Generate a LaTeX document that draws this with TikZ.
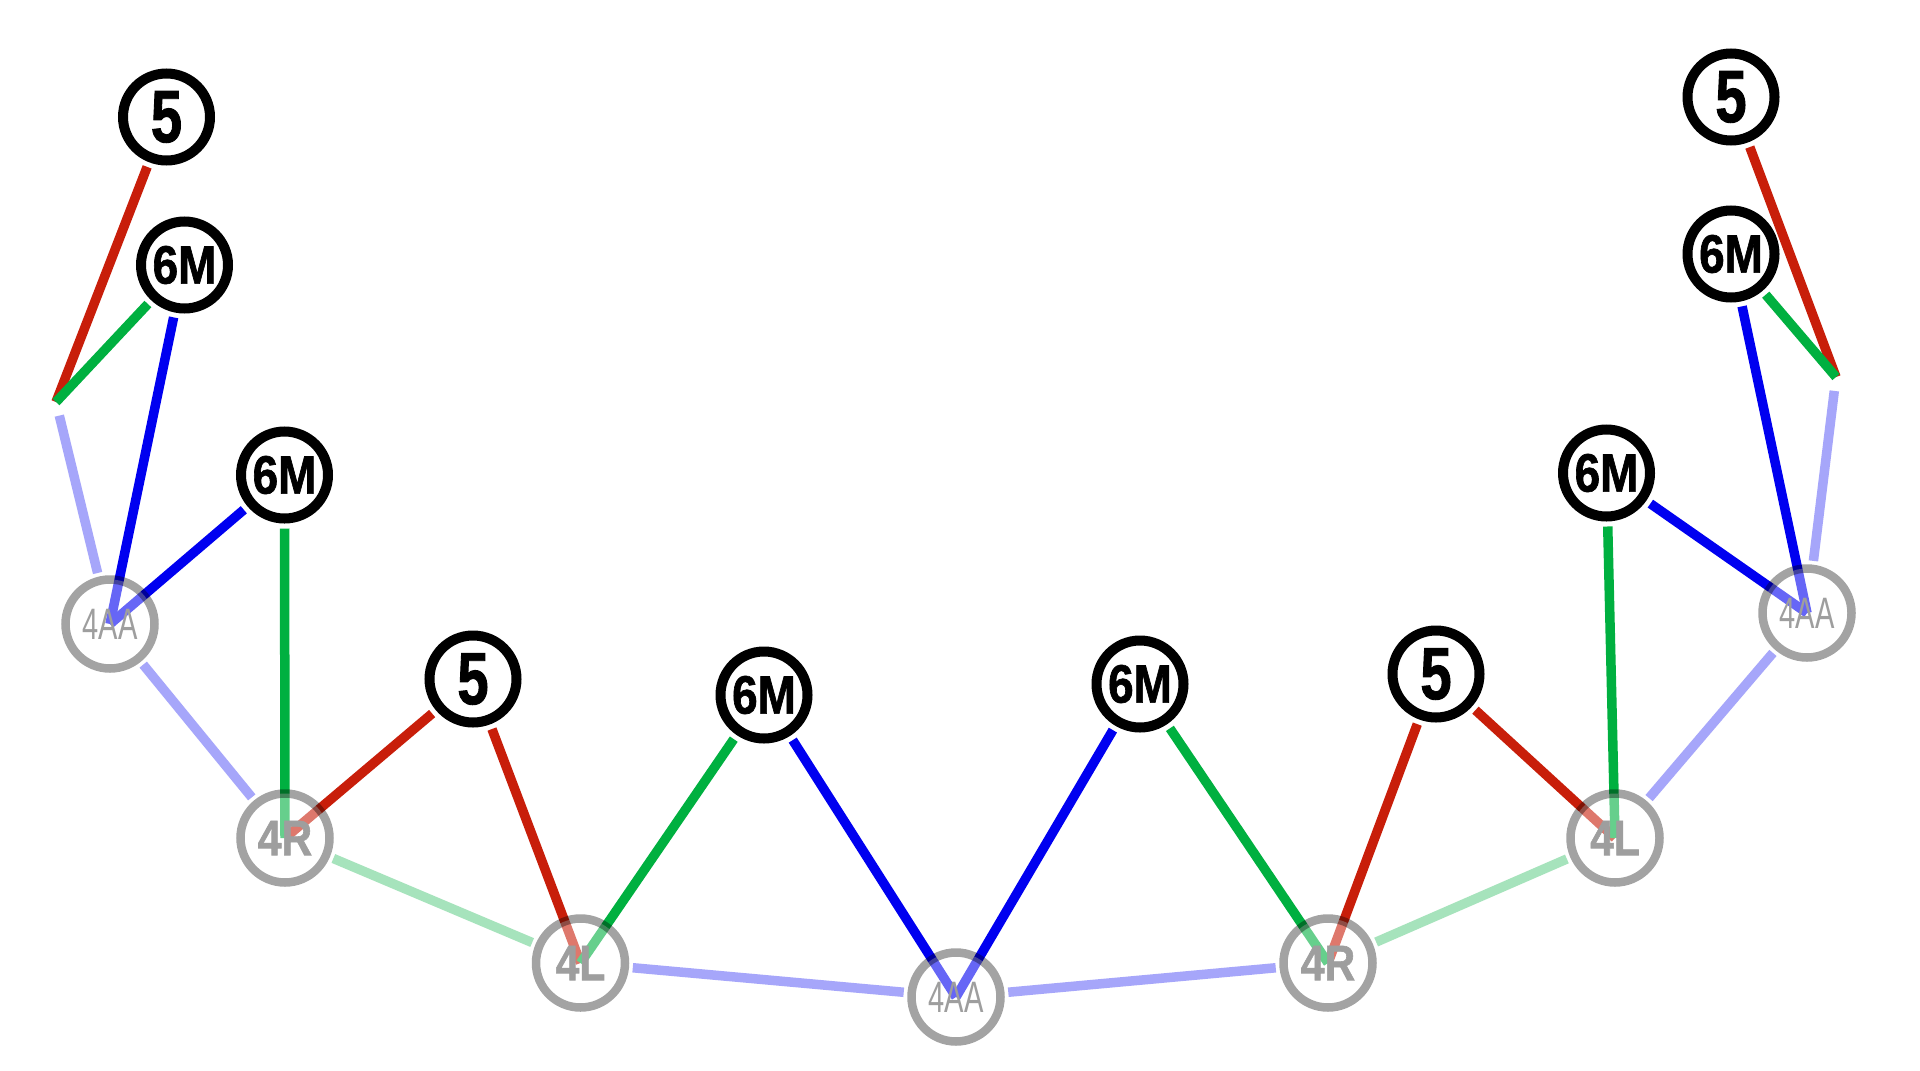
\documentclass[tikz,border=0pt]{standalone}
\usepackage{fontspec}
\usepackage{tikz}
\usetikzlibrary{backgrounds}
\newfontfamily\lab[FakeStretch=0.85,FakeBold=1.2]{Liberation Sans}
\newfontfamily\fivelab[FakeStretch=0.76,FakeBold=1.2]{Liberation Sans}
\newfontfamily\thinlab[FakeStretch=0.66]{Liberation Sans}
\definecolor{rline}{RGB}{200,30,10}
\definecolor{gline}{RGB}{0,176,64}
\definecolor{bline}{RGB}{0,0,240}

\begin{document}
\begin{tikzpicture}[x=1pt,y=-1pt,
    hub/.style={circle,draw,line width=10pt,fill=white,minimum size=87pt,inner sep=0pt,outer sep=10pt,font=\lab\bfseries\fontsize{54}{54}\selectfont},
    five/.style={hub,font=\fivelab\bfseries\fontsize{74}{74}\selectfont},
    ghost/.style={circle,draw=black,draw opacity=0.36,line width=8.5pt,fill=white,fill opacity=0.4,text opacity=1,text=black!38,minimum size=89pt,inner sep=0pt,outer sep=8pt,font=\lab\bfseries\fontsize{50}{50}\selectfont},
    ghostaa/.style={ghost,font=\thinlab\fontsize{44}{44}\selectfont},
    link/.style={line width=9.5pt},
    redline/.style={link,rline},
    greenline/.style={link,gline},
    blueline/.style={link,bline},
    paleblue/.style={link,bline!35},
    palegreen/.style={link,gline!35}]
  \path[use as bounding box] (0,0) rectangle (1920,1071);
  % top row of black nodes
  \node[five](a5) at (166.5,117){5};
  \node[hub](a6) at (184.5,265){6M};
  \node[hub](b6) at (284.5,475){6M};
  \node[five](b5) at (473,679){5};
  \node[hub](c6) at (764,695){6M};
  \node[hub](d6) at (1140,684){6M};
  \node[five](c5) at (1436,674){5};
  \node[hub](e6) at (1606.5,473){6M};
  \node[hub](f6) at (1731,254){6M};
  \node[five](d5) at (1731,97){5};
  \coordinate(ja) at (56,402);
  \coordinate(jb) at (1836,377);
  % grey ring of 4-nodes
  \node[ghostaa](aa1) at (110,624){4AA};
  \node[ghost](r1) at (285,838){4R};
  \node[ghost](l1) at (580.5,963){4L};
  \node[ghostaa](aa2) at (956,997){4AA};
  \node[ghost](r2) at (1328,963){4R};
  \node[ghost](l2) at (1615,838){4L};
  \node[ghostaa](aa3) at (1807,613){4AA};
  \begin{pgfonlayer}{background}
    \fill[white] (0,0) rectangle (1920,1071);
    \foreach \u/\v in {a5/ja,b5/r1.center,b5/l1.center,c5/r2.center,c5/l2.center,d5/jb}
      \draw[redline] (\u) -- (\v);
    \foreach \u/\v in {a6/ja,b6/r1.center,c6/l1.center,d6/r2.center,e6/l2.center,f6/jb}
      \draw[greenline] (\u) -- (\v);
    \foreach \u/\v in {a6/aa1.center,b6/aa1.center,c6/aa2.center,d6/aa2.center,e6/aa3.center,f6/aa3.center}
      \draw[blueline] (\u) -- (\v);
    \draw[paleblue,shorten <=14pt] (ja) -- (aa1);
    \draw[paleblue,shorten >=14pt] (aa3) -- (jb);
    \foreach \u/\v in {aa1/r1,l1/aa2,aa2/r2,l2/aa3}
      \draw[paleblue] (\u) -- (\v);
    \draw[palegreen] (r1) -- (l1);
    \draw[palegreen] (r2) -- (l2);
  \end{pgfonlayer}
\end{tikzpicture}
\end{document}
